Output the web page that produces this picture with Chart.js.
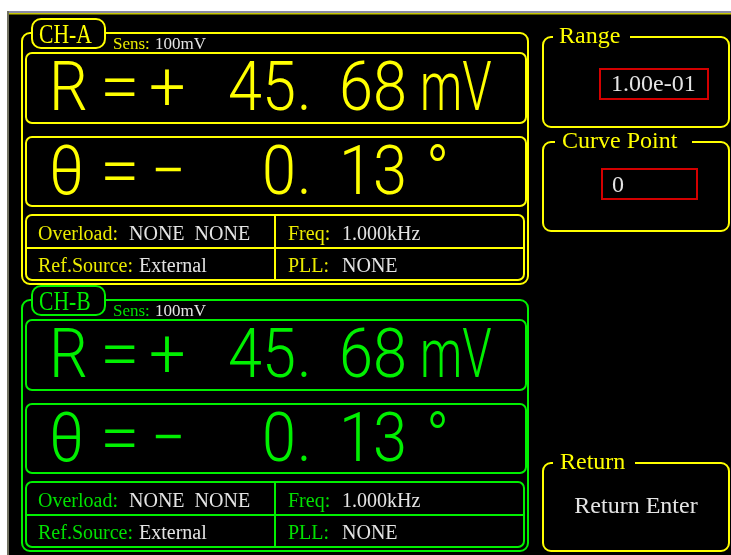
<!DOCTYPE html>
<html>
<head>
<meta charset="utf-8">
<script src="https://cdn.jsdelivr.net/npm/chart.js@4"></script>
<style>
  html, body { margin: 0; padding: 0; background: #ffffff; }
  #screen { display: block; }
</style>
</head>
<body>
<canvas id="screen" width="731" height="555"></canvas>
<script>
// Channel readings
const channelNames = ["CH-A", "CH-B"];
const sensValues = ["100mV", "100mV"];
const rSigns = ["+", "+"];
const rIntParts = ["45", "45"];
const rFracParts = ["68", "68"];
const rUnits = ["mV", "mV"];
const thetaSigns = ["\u2212", "\u2212"];
const thetaIntParts = ["0", "0"];
const thetaFracParts = ["13", "13"];
const overloadValues = ["NONE  NONE", "NONE  NONE"];
const refSourceValues = ["External", "External"];
const freqValues = ["1.000kHz", "1.000kHz"];
const pllValues = ["NONE", "NONE"];

// Side menu
const menuTitles = ["Range", "Curve Point", "Return"];
const menuValues = ["1.00e-01", "0", "Return Enter"];

// Colours
const CH_COLORS = ["#ffff00", "#00f000"];
const LABEL_COLORS = ["#ecec00", "#00e000"];
const VALUE_COLOR = "#e4e4e4";
const MENU_COLOR = "#ffff00";
const BOX_RED = "#d40000";
const SERIF = "'Liberation Serif', 'Times New Roman', serif";
const BIG = "300 68px Roboto, 'Liberation Sans', sans-serif";

const CH_OFFSET = 267;

// Side menu panel geometry: [x, y, w, h, gapStart, gapEnd, titleX, titleY]
const menuPanels = [
    [543, 37, 186, 90, 553, 630, 559, 43],
    [543, 142, 186, 89, 555, 692, 562, 148],
    [543, 463, 186, 88, 553, 635, 560, 469]
];

function scaledText(ctx, text, x, y, sx, align) {
    ctx.save();
    ctx.translate(x, y);
    ctx.scale(sx, 1);
    ctx.textAlign = align || "left";
    ctx.fillText(text, 0, 0);
    ctx.restore();
}

function rrect(ctx, x, y, w, h, r, color, lw) {
    ctx.beginPath();
    ctx.roundRect(x, y, w, h, r);
    ctx.strokeStyle = color;
    ctx.lineWidth = lw || 2;
    ctx.stroke();
}

const screenPlugin = {
    id: "screen",
    afterDraw(chart) {
        const ctx = chart.ctx;
        const xs = chart.scales.x, ys = chart.scales.y;
        const X = v => xs.getPixelForValue(v);
        const Y = v => ys.getPixelForValue(v);

        ctx.save();
        ctx.textBaseline = "alphabetic";

        // display background and bezel
        ctx.fillStyle = "#000000";
        ctx.fillRect(X(8), Y(12), X(731) - X(8), Y(555) - Y(12));
        ctx.fillStyle = "#8a8aa6";
        ctx.fillRect(X(7), Y(11), X(731) - X(7), 2);
        ctx.fillStyle = "#707060";
        ctx.fillRect(X(7), Y(11), 2, Y(555) - Y(11));
        ctx.fillStyle = "#c8c800";
        ctx.fillRect(X(9), Y(13), X(731) - X(9), 1.5);

        channelNames.forEach((name, i) => {
            const dy = i * CH_OFFSET;
            const col = CH_COLORS[i];
            const lab = LABEL_COLORS[i];

            // outer frame + tab
            rrect(ctx, X(22), Y(33 + dy), X(528) - X(22), Y(284) - Y(33), 8, col);
            ctx.fillStyle = "#000";
            ctx.beginPath();
            ctx.roundRect(X(32), Y(19 + dy), 73, 29, 9);
            ctx.fill();
            rrect(ctx, X(32), Y(19 + dy), 73, 29, 9, col);
            ctx.fillStyle = col;
            ctx.font = "27px " + SERIF;
            scaledText(ctx, name, X(39), Y(43 + dy), 0.8);

            ctx.font = "17px " + SERIF;
            ctx.fillStyle = lab;
            ctx.fillText("Sens:", X(113), Y(49 + dy));
            ctx.fillStyle = VALUE_COLOR;
            ctx.fillText(sensValues[i], X(155), Y(49 + dy));

            // R row
            rrect(ctx, X(26), Y(53 + dy), X(526) - X(26), 70, 6, col);
            ctx.fillStyle = col;
            ctx.font = BIG;
            const bR = Y(110 + dy);
            scaledText(ctx, "R", X(49), bR, 0.9);
            scaledText(ctx, "=", X(100), bR, 1.05);
            scaledText(ctx, rSigns[i], X(149), bR, 0.95);
            scaledText(ctx, rIntParts[i], X(296), bR, 0.9, "right");
            scaledText(ctx, ".", X(297), bR, 0.9);
            scaledText(ctx, rFracParts[i], X(339), bR, 0.9);
            scaledText(ctx, rUnits[i], X(420), bR, 0.7);

            // theta row
            rrect(ctx, X(26), Y(137 + dy), X(526) - X(26), 69, 6, col);
            const bT = Y(194 + dy);
            scaledText(ctx, "\u03b8", X(49), bT, 0.9);
            scaledText(ctx, "=", X(100), bT, 1.05);
            scaledText(ctx, thetaSigns[i], X(151), bT, 0.9);
            scaledText(ctx, thetaIntParts[i], X(296), bT, 0.9, "right");
            scaledText(ctx, ".", X(297), bT, 0.9);
            scaledText(ctx, thetaFracParts[i], X(339), bT, 0.9);
            scaledText(ctx, "\u00b0", X(426), bT, 0.9);

            // info grid
            rrect(ctx, X(26), Y(215 + dy), X(524) - X(26), 65, 6, col);
            ctx.beginPath();
            ctx.moveTo(X(26), Y(248 + dy));
            ctx.lineTo(X(524), Y(248 + dy));
            ctx.moveTo(X(275), Y(215 + dy));
            ctx.lineTo(X(275), Y(280 + dy));
            ctx.strokeStyle = col;
            ctx.lineWidth = 2;
            ctx.stroke();

            ctx.font = "20px " + SERIF;
            const b1 = Y(240 + dy), b2 = Y(272 + dy);
            ctx.fillStyle = lab;
            ctx.fillText("Overload:", X(38), b1);
            ctx.fillText("Ref.Source:", X(38), b2);
            ctx.fillText("Freq:", X(288), b1);
            ctx.fillText("PLL:", X(288), b2);
            ctx.fillStyle = VALUE_COLOR;
            ctx.fillText(overloadValues[i], X(129), b1);
            ctx.fillText(refSourceValues[i], X(139), b2);
            ctx.fillText(freqValues[i], X(342), b1);
            ctx.fillText(pllValues[i], X(342), b2);
        });

        // side menu
        menuTitles.forEach((title, i) => {
            const [x, y, w, h, g0, g1, tx, ty] = menuPanels[i];
            rrect(ctx, X(x), Y(y), w, h, 8, MENU_COLOR);
            ctx.fillStyle = "#000";
            ctx.fillRect(X(g0), Y(y) - 3, X(g1) - X(g0), 6);
            ctx.fillStyle = MENU_COLOR;
            ctx.font = "24px " + SERIF;
            ctx.fillText(title, X(tx), Y(ty));
        });

        ctx.font = "24px " + SERIF;
        rrect(ctx, X(600), Y(69), 108, 30, 0, BOX_RED);
        ctx.fillStyle = VALUE_COLOR;
        ctx.fillText(menuValues[0], X(611), Y(91));
        rrect(ctx, X(602), Y(169), 95, 30, 0, BOX_RED);
        ctx.fillText(menuValues[1], X(612), Y(192));
        ctx.textAlign = "center";
        ctx.fillText(menuValues[2], X(636), Y(513));

        ctx.restore();
    }
};

function initApp() {
    const ctx = document.getElementById("screen");
    window.screenChart = new Chart(ctx, {
        type: "scatter",
        data: { datasets: [] },
        options: {
            responsive: false,
            animation: false,
            devicePixelRatio: 1,
            layout: { padding: 0 },
            plugins: {
                legend: { display: false },
                tooltip: { enabled: false }
            },
            scales: {
                x: { type: "linear", min: 0, max: 731, display: false },
                y: { type: "linear", min: 0, max: 555, reverse: true, display: false }
            }
        },
        plugins: [screenPlugin]
    });
}

document.addEventListener("DOMContentLoaded", () => {
    // make sure the light weight is loaded before drawing
    if (document.fonts && document.fonts.load) {
        document.fonts.load(BIG).then(initApp, initApp);
    } else {
        initApp();
    }
});
</script>
</body>
</html>
